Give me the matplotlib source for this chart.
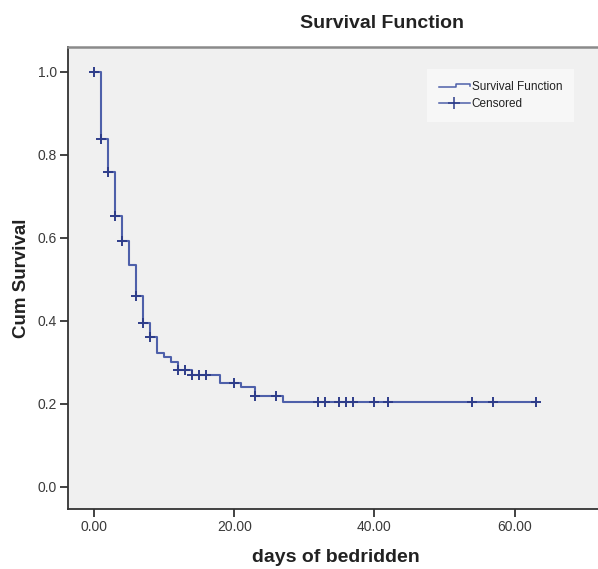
import numpy as np
import matplotlib
matplotlib.use("Agg")
import matplotlib.pyplot as plt
from matplotlib.lines import Line2D
from matplotlib.legend_handler import HandlerBase
from matplotlib.ticker import FormatStrFormatter

plt.rcParams["font.family"] = ["Liberation Sans", "DejaVu Sans"]

# ── Data ──────────────────────────────────────────────────────────────────────
event_days = [0, 1, 2, 3, 4, 5, 6, 7, 8, 9, 10, 11, 12, 14, 18, 21, 23, 27, 63]
cum_survival = [1.0, 0.838, 0.758, 0.654, 0.593, 0.535, 0.459, 0.394, 0.362,
                0.322, 0.312, 0.302, 0.282, 0.270, 0.250, 0.240, 0.219, 0.204, 0.204]
censored_days = [0, 1, 2, 3, 4, 6, 7, 8, 12, 13, 14, 15, 16, 20, 23, 26,
                 32, 33, 35, 36, 37, 40, 42, 54, 57, 63]
x_ticks = [0, 20, 40, 60]
y_ticks = [0.0, 0.2, 0.4, 0.6, 0.8, 1.0]

LINE_COL = "#4e60aa"
MARK_COL = "#2e3d8a"


# survival value at each censored time (step function, right-continuous)
idx = np.searchsorted(event_days, censored_days, side="right") - 1
censored_surv = np.array(cum_survival)[idx]


class StepHandler(HandlerBase):
    """Legend icon drawn as a small step line."""
    def create_artists(self, legend, orig, xd, yd, w, h, fontsize, trans):
        xs = [xd, xd + w * 0.55, xd + w * 0.55, xd + w, xd + w]
        ys = [yd + h * 0.3, yd + h * 0.3, yd + h * 0.75, yd + h * 0.75, yd + h * 0.45]
        ln = Line2D(xs, ys, color=LINE_COL, lw=1.1, transform=trans)
        return [ln]


class CensorHandler(HandlerBase):
    def create_artists(self, legend, orig, xd, yd, w, h, fontsize, trans):
        ln = Line2D([xd, xd + w], [yd + h * 0.5] * 2, color=LINE_COL, lw=1.1,
                    transform=trans)
        mk = Line2D([xd + w * 0.5], [yd + h * 0.5], marker="+", ms=8, mew=1.1,
                    color=MARK_COL, ls="none", transform=trans)
        return [ln, mk]


fig = plt.figure(figsize=(5.98, 5.69), dpi=100)
ax = fig.add_axes([68 / 598, 60 / 569, 532 / 598, 462 / 569])
ax.set_facecolor("#f0f0f0")

step_line, = ax.step(event_days, cum_survival, where="post", color=LINE_COL, lw=1.5)
cens_pts, = ax.plot(censored_days, censored_surv, ls="none", marker="+", ms=7.5,
                    mew=1.4, color=MARK_COL)

ax.set_xlim(-3.72, 72.2)
ax.set_ylim(-0.053, 1.06)
ax.set_xticks(x_ticks)
ax.set_yticks(y_ticks)
ax.xaxis.set_major_formatter(FormatStrFormatter("%.2f"))
ax.yaxis.set_major_formatter(FormatStrFormatter("%.1f"))
ax.tick_params(axis="both", direction="out", length=6, width=1.3, color="#333333",
               labelsize=10, labelcolor="#3a3a3a", pad=2)

for side in ["left", "bottom"]:
    ax.spines[side].set_color("#333333")
    ax.spines[side].set_linewidth(1.3)
ax.spines["top"].set_color("#8a8a8a")
ax.spines["top"].set_linewidth(1.8)
ax.spines["right"].set_visible(False)

leg = ax.legend([step_line, cens_pts], ["Survival Function", "Censored"],
                handler_map={step_line: StepHandler(), cens_pts: CensorHandler()},
                loc="upper right", bbox_to_anchor=(0.962, 0.965), fontsize=8.5,
                handlelength=2.6, handletextpad=0.15, labelspacing=0.45,
                borderpad=1.0, frameon=True, fancybox=False)
leg.get_frame().set_facecolor("#fafafa")
leg.get_frame().set_edgecolor("none")
for t in leg.get_texts():
    t.set_color("#222222")

fig.text(382 / 598, 1 - 23 / 569, "Survival Function", ha="center", va="center",
         fontsize=14, fontweight="bold", color="#222222")
fig.text(336 / 598, 1 - 557 / 569, "days of bedridden", ha="center", va="center",
         fontsize=14, fontweight="bold", color="#222222")
fig.text(22 / 598, 1 - 278 / 569, "Cum Survival", ha="center", va="center",
         rotation=90, fontsize=13.5, fontweight="bold", color="#222222")

fig.savefig("out.png", dpi=100)
